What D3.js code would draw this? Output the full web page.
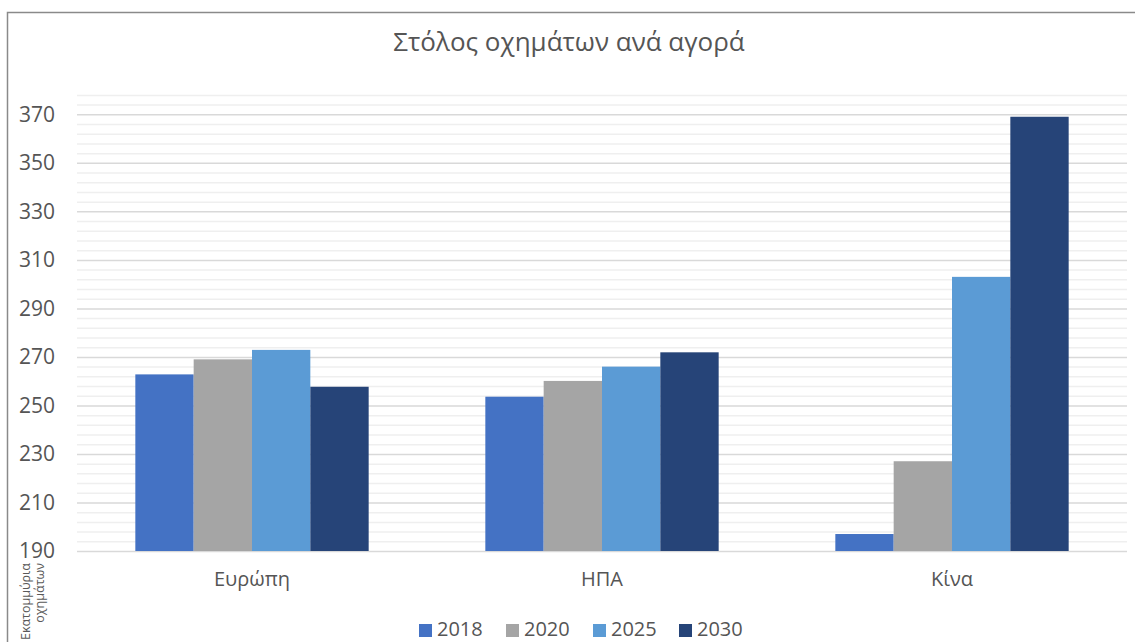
<!DOCTYPE html>
<html>
<head>
<meta charset="utf-8">
<script src="https://cdn.jsdelivr.net/npm/d3@7"></script>
<style>
  html, body { margin: 0; padding: 0; background: #fff; overflow: hidden; }
  svg { display: block; font-family: "Open Sans", "Noto Sans", sans-serif; }
</style>
</head>
<body>
<div id="svg-container"></div>
<script>
// data
const title = "Στόλος οχημάτων ανά αγορά";
const markets = ["Ευρώπη", "ΗΠΑ", "Κίνα"];
const years = ["2018", "2020", "2025", "2030"];
const values2018 = [262.8, 253.6, 197];
const values2020 = [269, 260.1, 227];
const values2025 = [272.9, 266, 303];
const values2030 = [257.7, 271.9, 369];
const yTicks = [190, 210, 230, 250, 270, 290, 310, 330, 350, 370];
const axisTitle = ["Εκατομμύρια", "οχημάτων"];

const colors = ["#4472C4", "#A5A5A5", "#5B9BD5", "#264478"];
const seriesValues = [values2018, values2020, values2025, values2030];

const width = 1135;
const height = 642;

const svg = d3.select("#svg-container").append("svg")
  .attr("width", width)
  .attr("height", height);

// chart frame (left + top edges visible)
svg.append("path")
  .attr("d", `M7.5,${height} V12.5 H${width}`)
  .attr("fill", "none")
  .attr("stroke", "#8a8a8a")
  .attr("stroke-width", 1.5);

// scales
const xScale = d3.scaleBand()
  .domain(markets)
  .range([77, 1127])
  .paddingInner(1 / 3)
  .paddingOuter(1 / 6);

const xSub = d3.scaleBand()
  .domain(years)
  .range([0, xScale.bandwidth()]);

const yScale = d3.scaleLinear()
  .domain([190, 378])
  .range([551, 551 - 188 * 2.426]);

// minor grid (every 4 units)
const minorTicks = d3.range(190, 379, 4).filter(v => !yTicks.includes(v));
svg.append("g")
  .attr("class", "minor-grid")
  .attr("transform", "translate(77,0)")
  .call(d3.axisLeft(yScale).tickValues(minorTicks).tickSize(-1050).tickFormat(""))
  .call(g => g.select(".domain").remove())
  .call(g => g.selectAll("line").attr("stroke", "#efefef").attr("stroke-width", 1.5));

// major grid + labels
svg.append("g")
  .attr("class", "y-axis")
  .attr("transform", "translate(77,0)")
  .call(d3.axisLeft(yScale).tickValues(yTicks).tickSize(-1050).tickPadding(22))
  .call(g => g.select(".domain").remove())
  .call(g => g.selectAll("line").attr("stroke", "#d9d9d9").attr("stroke-width", 1.5))
  .call(g => g.selectAll("text")
    .attr("fill", "#555")
    .attr("font-size", 21)
    .attr("font-family", "'Open Sans', sans-serif"));

// bars
const groups = svg.append("g").selectAll("g")
  .data(markets)
  .join("g")
  .attr("transform", d => `translate(${xScale(d)},0)`);

groups.selectAll("rect")
  .data((m, i) => years.map((y, j) => ({ year: y, value: seriesValues[j][i], color: colors[j] })))
  .join("rect")
  .attr("x", d => xSub(d.year))
  .attr("width", xSub.bandwidth())
  .attr("y", d => yScale(d.value))
  .attr("height", d => yScale(190) - yScale(d.value))
  .attr("fill", d => d.color);

// x axis labels
svg.append("g")
  .attr("class", "x-axis")
  .attr("transform", `translate(0, ${yScale(190)})`)
  .call(d3.axisBottom(xScale).tickSize(0).tickPadding(21))
  .call(g => g.select(".domain").remove())
  .call(g => g.selectAll("text")
    .attr("fill", "#555")
    .attr("font-size", 20)
    .attr("font-family", "'Open Sans', sans-serif"));

// title
svg.append("text")
  .attr("x", 569)
  .attr("y", 51)
  .attr("text-anchor", "middle")
  .attr("fill", "#555")
  .attr("font-size", 26)
  .text(title);

// axis title (rotated, two lines)
const at = svg.append("text")
  .attr("transform", "translate(0,563) rotate(-90)")
  .attr("text-anchor", "end")
  .attr("fill", "#595959")
  .attr("font-size", 12.5);
at.selectAll("tspan")
  .data(axisTitle)
  .join("tspan")
  .attr("x", 0)
  .attr("y", (d, i) => 30 + i * 14)
  .text(d => d);

// legend
const legendX = [419, 506, 593, 679];
const legend = svg.append("g").selectAll("g")
  .data(years)
  .join("g")
  .attr("transform", (d, i) => `translate(${legendX[i]}, 0)`);

legend.append("rect")
  .attr("x", 0)
  .attr("y", 624)
  .attr("width", 13)
  .attr("height", 13)
  .attr("fill", (d, i) => colors[i]);

legend.append("text")
  .attr("x", 18)
  .attr("y", 636)
  .attr("fill", "#555")
  .attr("font-size", 20)
  .text(d => d);
</script>
</body>
</html>
